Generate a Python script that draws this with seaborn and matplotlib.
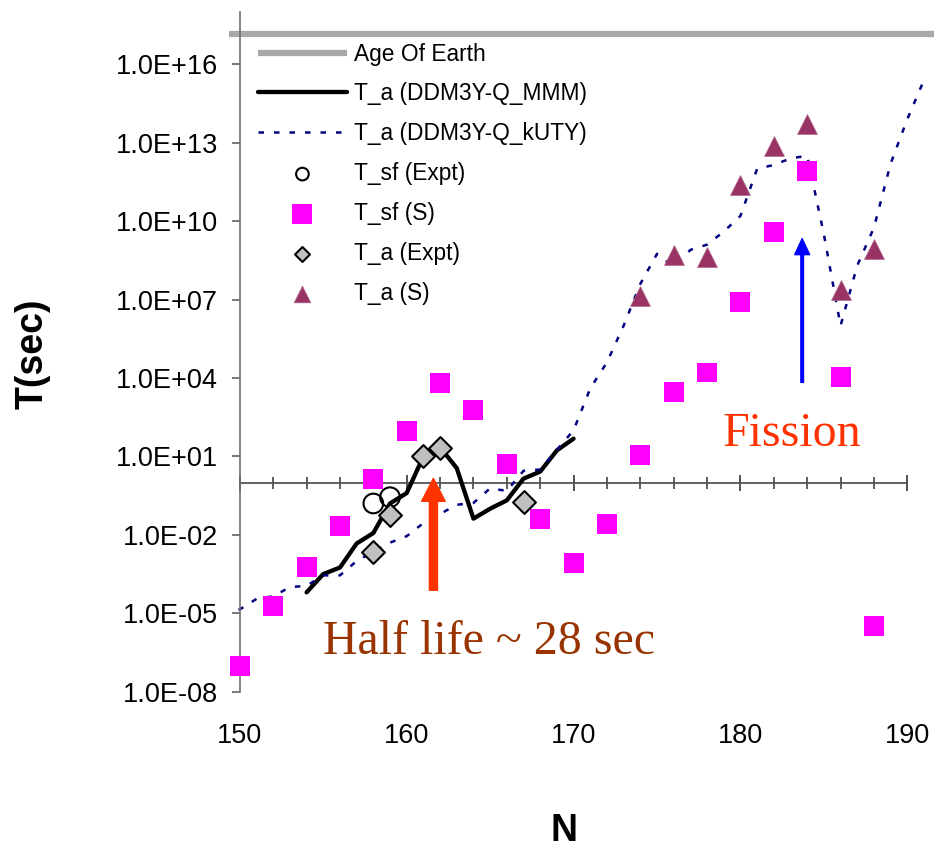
import numpy as np
import pandas as pd
import matplotlib
matplotlib.use("Agg")
import matplotlib.pyplot as plt
import seaborn as sns
from matplotlib.ticker import FixedLocator, FixedFormatter, NullLocator

# ---------------- data (log10 of T in seconds) ----------------
N_age = [149, 193]
log_age = [17.15, 17.15]

N_mmm = [154, 155, 156, 157, 158, 159, 160, 161, 162, 163, 164, 165, 166, 167, 168, 169, 170]
log_mmm = [-4.2, -3.5, -3.25, -2.33, -1.93, -0.8, -0.4, 1.0, 1.35, 0.55, -1.38, -1.0, -0.68,
           0.15, 0.42, 1.23, 1.68]

N_kuty = list(range(149, 192))
log_kuty = [-4.95, -4.85, -4.45, -4.35, -4.0, -3.95, -3.55, -3.55, -3.0, -2.65, -2.3, -2.05,
            -1.55, -1.2, -0.85, -0.78, -0.22, -0.32, 0.45, 0.5, 1.25, 2.0, 3.6, 4.6, 6.0,
            7.6, 8.75, 8.25, 8.9, 9.1, 9.6, 10.2, 12.0, 12.15, 12.4, 12.5, 9.5, 6.0, 8.3,
            9.75, 12.2, 13.9, 15.4]

N_sf_expt = [158, 159]
log_sf_expt = [-0.8, -0.56]

N_sf_s = [150, 152, 154, 156, 158, 160, 162, 164, 166, 168, 170, 172, 174, 176, 178, 180,
          182, 184, 186, 188]
log_sf_s = [-7.02, -4.73, -3.24, -1.67, 0.12, 1.96, 3.79, 2.76, 0.70, -1.41, -3.06, -1.57,
            1.04, 3.45, 4.21, 6.92, 9.59, 11.92, 4.02, -5.49]

N_a_expt = [158, 159, 161, 162, 167]
log_a_expt = [-2.67, -1.25, 1.0, 1.34, -0.76]

N_a_s = [174, 176, 178, 180, 182, 184, 186, 188]
log_a_s = [7.15, 8.72, 8.64, 11.39, 12.88, 13.72, 7.38, 8.94]

labels = ["Age Of Earth", "T_a (DDM3Y-Q_MMM)", "T_a (DDM3Y-Q_kUTY)", "T_sf (Expt)",
          "T_sf (S)", "T_a (Expt)", "T_a (S)"]

y_ticks = [1e-8, 1e-5, 1e-2, 1e1, 1e4, 1e7, 1e10, 1e13, 1e16]
y_tick_labels = ["1.0E-08", "1.0E-05", "1.0E-02", "1.0E+01", "1.0E+04", "1.0E+07",
                 "1.0E+10", "1.0E+13", "1.0E+16"]
x_ticks = [150, 160, 170, 180, 190]
x_minor = list(range(150, 191, 2))

def T(v):
    return 10.0 ** np.asarray(v, dtype=float)

# ---------------- figure ----------------
sns.set_theme(style="white")
plt.rcParams["font.family"] = ["Liberation Sans", "DejaVu Sans"]
plt.rcParams["text.color"] = "black"
plt.rcParams["axes.labelcolor"] = "black"
plt.rcParams["xtick.color"] = "black"
plt.rcParams["ytick.color"] = "black"

W, H = 934, 848
fig = plt.figure(figsize=(W / 100, H / 100), dpi=100)
ax_l, ax_r, ax_t, ax_b = 229, 934, 12, 691.7
ax = fig.add_axes([ax_l / W, (H - ax_b) / H, (ax_r - ax_l) / W, (ax_b - ax_t) / H])
ax.set_facecolor("white")

sns.lineplot(x=N_age, y=T(log_age), ax=ax, color="#a8a8a8", linewidth=4.5,
             label=labels[0], estimator=None, solid_capstyle="butt")
sns.lineplot(x=N_mmm, y=T(log_mmm), ax=ax, color="black", linewidth=3.1,
             label=labels[1], estimator=None)
sns.lineplot(x=N_kuty, y=T(log_kuty), ax=ax, color="#000080", linewidth=1.8,
             linestyle=(0, (2.2, 4.0)), label=labels[2], estimator=None,
             dash_capstyle="butt")
sns.scatterplot(x=N_sf_expt, y=T(log_sf_expt), ax=ax, marker="o", s=200,
                facecolor="none", edgecolor="black", linewidth=1.5, label=labels[3], zorder=4)
sns.scatterplot(x=N_sf_s, y=T(log_sf_s), ax=ax, marker="s", s=207, color="#FF00FF",
                edgecolor="none", linewidth=0, label=labels[4], zorder=4)
sns.scatterplot(x=N_a_expt, y=T(log_a_expt), ax=ax, marker="D", s=135, color="#C0C0C0",
                edgecolor="black", linewidth=1.5, label=labels[5], zorder=5)
sns.scatterplot(x=N_a_s, y=T(log_a_s), ax=ax, marker="^", s=205, color="#993366",
                edgecolor="#b0668a", linewidth=0.5, label=labels[6], zorder=5)

# ---------------- axes ----------------
ax.set_yscale("log")
ax.set_xlim(149.35, 191.6)
ax.set_ylim(1e-8, 1e18)
ax.grid(False)

for s in ["top", "right", "bottom"]:
    ax.spines[s].set_visible(False)
ax.spines["left"].set_position(("data", 150))
ax.spines["left"].set_bounds(1e-8, 1e18)
ax.spines["left"].set_color("#707070")
ax.spines["left"].set_linewidth(1.2)

ax.yaxis.set_major_locator(FixedLocator(y_ticks))
ax.yaxis.set_major_formatter(FixedFormatter(y_tick_labels))
ax.yaxis.set_minor_locator(NullLocator())
ax.tick_params(axis="y", which="major", direction="out", length=5.8, width=1.1,
               color="#555555", pad=10, labelsize=19.5, left=True, labelcolor="black")

ax.set_xticks(x_ticks)
ax.set_xticklabels([str(v) for v in x_ticks])
ax.xaxis.set_minor_locator(NullLocator())
ax.tick_params(axis="x", which="major", length=0, pad=22.5, labelsize=19.5,
               labelcolor="black", bottom=True)

# horizontal axis line crossing at T = 1
sec = ax.secondary_xaxis((0 - np.log10(1e-8)) / (np.log10(1e18) - np.log10(1e-8)))
for s in sec.spines.values():
    s.set_visible(False)
sec.spines["bottom"].set_visible(True)
sec.spines["bottom"].set_bounds(150, 190)
sec.spines["bottom"].set_color("#555555")
sec.spines["bottom"].set_linewidth(1.3)
sec.xaxis.set_ticks_position("bottom")
sec.xaxis.set_major_locator(FixedLocator(x_ticks))
sec.xaxis.set_minor_locator(FixedLocator(x_minor))
sec.tick_params(which="major", direction="inout", length=11.5, width=1.1, color="#222222",
                labelbottom=False, labeltop=False)
sec.tick_params(which="minor", direction="inout", length=8.6, width=1.1, color="#333333",
                labelbottom=False, labeltop=False)

ax.set_ylabel("T(sec)", fontsize=27, fontweight="bold", va="center", color="black")
ax.yaxis.set_label_coords((32.5 - ax_l) / (ax_r - ax_l), (ax_b - 354) / (ax_b - ax_t))
ax.set_xlabel("N", fontsize=27, fontweight="bold", va="center", color="black")
ax.xaxis.set_label_coords((564 - ax_l) / (ax_r - ax_l), (ax_b - 831) / (ax_b - ax_t))

# ---------------- legend ----------------
handles, labs = ax.get_legend_handles_labels()
leg = ax.legend(handles, labs, loc="upper left",
                bbox_to_anchor=((258 - ax_l) / (ax_r - ax_l), (ax_b - 42.5) / (ax_b - ax_t)),
                frameon=False, fontsize=16.4, handlelength=3.9, handletextpad=0.3,
                labelspacing=0.74, borderpad=0, borderaxespad=0, scatterpoints=1,
                labelcolor="black")
lh = leg.legend_handles
lh[3].set_sizes([83])
lh[4].set_sizes([207])
lh[5].set_sizes([58])
lh[6].set_sizes([144])

# ---------------- annotations ----------------
ax.annotate("", xy=(161.6, 10 ** 0.16), xytext=(161.6, 10 ** -4.12),
            arrowprops=dict(arrowstyle="simple,head_length=16.5,head_width=17,tail_width=5.8",
                            mutation_scale=1, color="#FF3300", shrinkA=0, shrinkB=0))
ax.annotate("", xy=(183.7, 10 ** 9.33), xytext=(183.7, 10 ** 3.83),
            arrowprops=dict(arrowstyle="simple,head_length=11.5,head_width=10.8,tail_width=1.9",
                            mutation_scale=1, color="#0000FF", shrinkA=0, shrinkB=0))
ax.text(183.08, 10 ** 1.38, "Fission", ha="center", va="baseline", fontsize=34.5,
        family=["Liberation Serif", "DejaVu Serif"], color="#FF3300")
ax.text(164.92, 10 ** -6.54, "Half life ~ 28 sec", ha="center", va="baseline", fontsize=34.5,
        family=["Liberation Serif", "DejaVu Serif"], color="#993300")

fig.savefig("out.png", dpi=100)
